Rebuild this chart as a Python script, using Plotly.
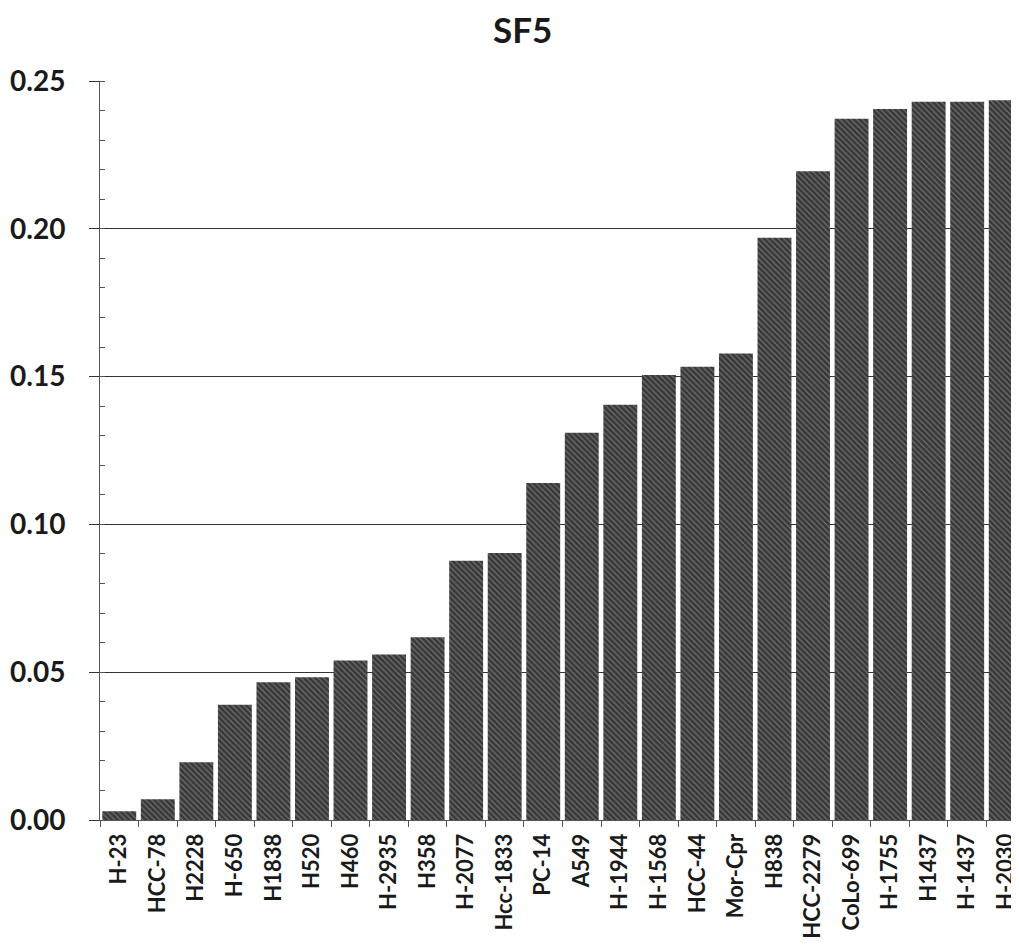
import plotly.graph_objects as go

categories = ["H-23", "HCC-78", "H2228", "H-650", "H1838", "H520", "H460", "H-2935",
              "H358", "H-2077", "Hcc-1833", "PC-14", "A549", "H-1944", "H-1568",
              "HCC-44", "Mor-Cpr", "H838", "HCC-2279", "CoLo-699", "H-1755",
              "H1437", "H-1437", "H-2030"]
values = [0.003, 0.007, 0.0195, 0.039, 0.0466, 0.0483, 0.054, 0.056,
          0.0618, 0.0877, 0.0903, 0.114, 0.131, 0.1405, 0.1505,
          0.1533, 0.1578, 0.197, 0.2195, 0.2372, 0.2405,
          0.243, 0.243, 0.2435]
y_ticks = [0.00, 0.05, 0.10, 0.15, 0.20, 0.25]
y_ticktext = ["0.00", "0.05", "0.10", "0.15", "0.20", "0.25"]

FONT = "Lato"

fig = go.Figure()
fig.add_trace(go.Bar(
    x=categories, y=values,
    marker=dict(color="#383838", line=dict(width=0),
                pattern=dict(shape="\\", fgcolor="#a8a8a8", size=4, solidity=0.3)),
))

fig.update_layout(
    width=1019, height=947,
    margin=dict(l=89, r=2, t=73, b=135),
    paper_bgcolor="white", plot_bgcolor="white",
    bargap=0.12,
    showlegend=False,
    title=dict(text="<b>SF5</b>", xref="container", x=0.505, xanchor="center",
               yref="container", y=0.976, yanchor="middle",
               font=dict(family=FONT, size=35, color="#1a1a1a")),
    font=dict(family=FONT, color="#1a1a1a"),
)

fig.update_yaxes(
    range=[0, 0.25], tickvals=y_ticks, ticktext=y_ticktext,
    tickfont=dict(family=FONT, size=28, color="#1a1a1a", weight="bold"),
    showgrid=True, gridcolor="#333333", gridwidth=1,
    showline=True, linecolor="#555555", linewidth=1,
    ticks="outside", ticklen=10, tickcolor="#333333",
    ticklabelstandoff=18,
    minor=dict(dtick=0.01, ticks="inside", ticklen=5, tickcolor="#555555", showgrid=False),
    zeroline=False,
)
fig.update_xaxes(
    tickangle=-90,
    tickfont=dict(family=FONT, size=22, color="#1a1a1a", weight="bold"),
    showline=True, linecolor="#555555", linewidth=1,
    ticks="outside", tickson="boundaries", ticklen=6, tickcolor="#555555",
    ticklabelstandoff=4,
    showgrid=False,
)

fig.write_html("out.html")
